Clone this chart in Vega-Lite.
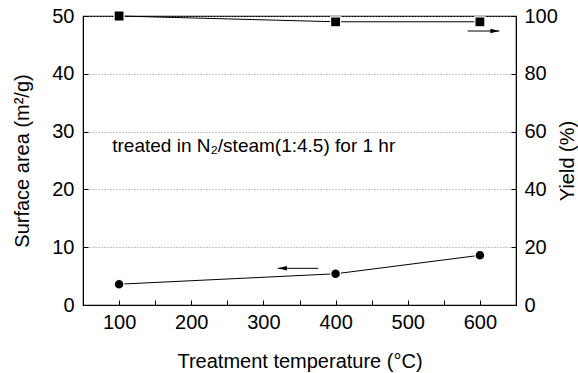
{
  "$schema": "https://vega.github.io/schema/vega-lite/v6.json",
  "width": 433,
  "height": 289,
  "autosize": "none",
  "padding": {"left": 83, "top": 16, "right": 62, "bottom": 68},
  "background": "white",
  "config": {
    "font": "Liberation Sans",
    "view": {"stroke": "black", "strokeWidth": 1.2},
    "axis": {
      "labelFont": "Liberation Sans",
      "titleFont": "Liberation Sans",
      "labelFontSize": 20,
      "titleFontSize": 20,
      "titleFontWeight": "normal",
      "labelColor": "black",
      "titleColor": "black",
      "tickColor": "black",
      "domainColor": "black",
      "tickSize": -5,
      "tickWidth": 1
    }
  },
  "datasets": {
    "sa": [
      {"temp": 100, "area": 3.6},
      {"temp": 400, "area": 5.4},
      {"temp": 600, "area": 8.6}
    ],
    "yield": [
      {"temp": 100, "yield": 100},
      {"temp": 400, "yield": 98},
      {"temp": 600, "yield": 98}
    ],
    "arrowL": [{"x1": 376, "x2": 320, "y": 6.35}],
    "arrowR": [{"x1": 583, "x2": 627, "y": 94.8}],
    "note": [{"x": 90.5, "y": 27.5, "text": "treated in N₂/steam(1:4.5) for 1 hr"}]
  },
  "layer": [
    {
      "layer": [
        {
          "data": {"name": "sa"},
          "mark": {"type": "line", "color": "black", "strokeWidth": 1},
          "encoding": {
            "x": {
              "field": "temp", "type": "quantitative",
              "scale": {"domain": [50, 650], "nice": false},
              "axis": {
                "title": "Treatment temperature (°C)",
                "values": [100, 150, 200, 250, 300, 350, 400, 450, 500, 550, 600],
                "labelExpr": "datum.value % 100 === 0 ? datum.label : ''",
                "grid": false,
                "labelPadding": 12,
                "titlePadding": 19
              }
            },
            "y": {
              "field": "area", "type": "quantitative",
              "scale": {"domain": [0, 50], "nice": false},
              "axis": {
                "title": "Surface area (m²/g)",
                "orient": "left",
                "values": [0, 5, 10, 15, 20, 25, 30, 35, 40, 45, 50],
                "labelExpr": "datum.value % 10 === 0 ? datum.label : ''",
                "grid": true,
                "gridColor": "#888888",
                "gridDash": [1, 2],
                "gridWidth": 1,
                "gridOpacity": {"condition": {"test": "datum.value % 10 !== 0", "value": 0}, "value": 1},
                "labelPadding": 14,
                "titlePadding": 19
              }
            }
          }
        },
        {
          "data": {"name": "sa"},
          "mark": {"type": "point", "shape": "circle", "filled": true, "color": "black", "size": 95, "stroke": "white", "strokeWidth": 1.2, "opacity": 1},
          "encoding": {
            "x": {"field": "temp", "type": "quantitative"},
            "y": {"field": "area", "type": "quantitative"}
          }
        },
        {
          "data": {"name": "arrowL"},
          "mark": {"type": "rule", "color": "black", "strokeWidth": 1},
          "encoding": {
            "x": {"field": "x1", "type": "quantitative"},
            "x2": {"field": "x2"},
            "y": {"field": "y", "type": "quantitative"}
          }
        },
        {
          "data": {"name": "arrowL"},
          "mark": {"type": "point", "shape": "M0,0L2,-0.5L2,0.5Z", "filled": true, "color": "black", "size": 81, "opacity": 1},
          "encoding": {
            "x": {"field": "x2", "type": "quantitative"},
            "y": {"field": "y", "type": "quantitative"}
          }
        },
        {
          "data": {"name": "note"},
          "mark": {"type": "text", "align": "left", "baseline": "middle", "fontSize": 19, "font": "Liberation Sans", "color": "black"},
          "encoding": {
            "x": {"field": "x", "type": "quantitative"},
            "y": {"field": "y", "type": "quantitative"},
            "text": {"field": "text"}
          }
        }
      ]
    },
    {
      "layer": [
        {
          "data": {"name": "yield"},
          "mark": {"type": "line", "color": "black", "strokeWidth": 1},
          "encoding": {
            "x": {"field": "temp", "type": "quantitative"},
            "y": {
              "field": "yield", "type": "quantitative",
              "scale": {"domain": [0, 100], "nice": false},
              "axis": {
                "title": "Yield (%)",
                "orient": "right",
                "titleAngle": 270,
                "values": [0, 10, 20, 30, 40, 50, 60, 70, 80, 90, 100],
                "labelExpr": "datum.value % 20 === 0 ? datum.label : ''",
                "grid": false,
                "labelPadding": 13,
                "titlePadding": 20
              }
            }
          }
        },
        {
          "data": {"name": "yield"},
          "mark": {"type": "point", "shape": "square", "filled": true, "color": "black", "size": 100, "stroke": "white", "strokeWidth": 1.2, "opacity": 1},
          "encoding": {
            "x": {"field": "temp", "type": "quantitative"},
            "y": {"field": "yield", "type": "quantitative"}
          }
        },
        {
          "data": {"name": "arrowR"},
          "mark": {"type": "rule", "color": "black", "strokeWidth": 1},
          "encoding": {
            "x": {"field": "x1", "type": "quantitative"},
            "x2": {"field": "x2"},
            "y": {"field": "y", "type": "quantitative"}
          }
        },
        {
          "data": {"name": "arrowR"},
          "mark": {"type": "point", "shape": "M0,0L-2,-0.5L-2,0.5Z", "filled": true, "color": "black", "size": 81, "opacity": 1},
          "encoding": {
            "x": {"field": "x2", "type": "quantitative"},
            "y": {"field": "y", "type": "quantitative"}
          }
        }
      ]
    }
  ],
  "resolve": {"scale": {"y": "independent"}}
}
